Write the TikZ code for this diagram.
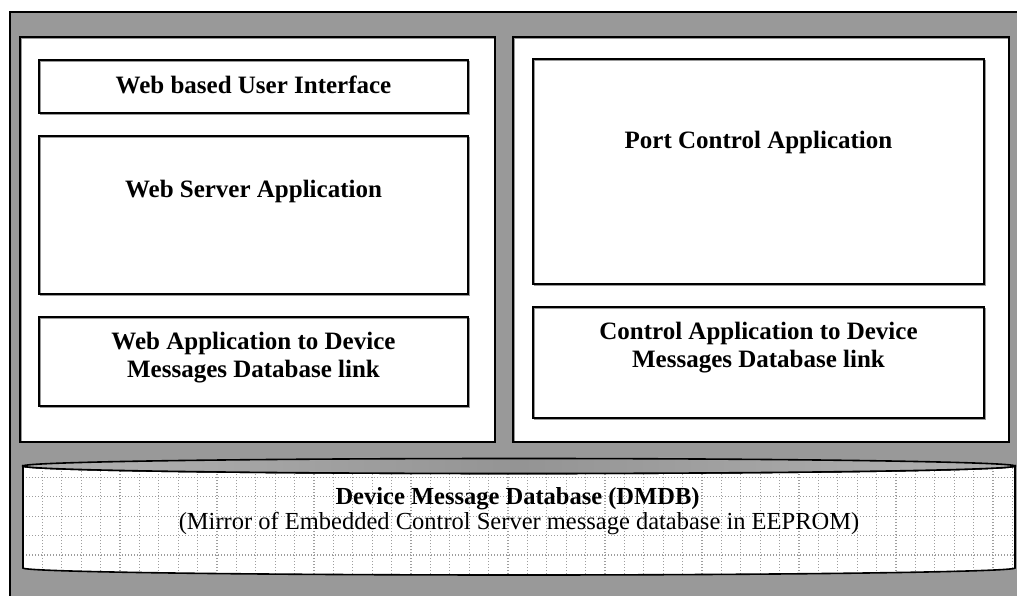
\documentclass[tikz,border=0pt]{standalone}
\usepackage{fontspec}
\setmainfont{Liberation Serif}
\begin{document}
\begin{tikzpicture}[x=1pt,y=1pt,
  frame/.style={fill=black!40, draw=black, line width=1.7pt},
  box/.style={rectangle, inner sep=0pt,
    preaction={fill=white},
    preaction={draw=black!40, line width=1.4pt, transform canvas={shift={(1.5pt,-1.5pt)}}},
    draw=black, line width=1.6pt},
  title/.style={inner sep=0pt, align=center, font=\fontsize{25}{28}\selectfont\bfseries},
  plain/.style={inner sep=0pt, align=center, font=\fontsize{24.5}{28}\selectfont},
  gridline/.style={draw=black!38, line width=1.2pt, dash pattern=on 1.2pt off 1.8pt},
  dbedge/.style={draw=black, line width=1.6pt},
  dbshadow/.style={draw=black!40, line width=1.4pt}]
\useasboundingbox (0,0) rectangle (1017,595);
\clip (0,0) rectangle (1017,595);
\fill[white] (0,0) rectangle (1017,595);

% grey enclosure
\path[frame] (10,583) rectangle (1040,-20);

% two application panels
\node[box, minimum width=475pt, minimum height=405pt] (left) at (257.5,355.5) {};
\node[box, minimum width=496pt, minimum height=405pt] (right) at (761,355.5) {};

% web side
\node[box, minimum width=429pt, minimum height=53pt]  (ui)      at (253.5,508.5) {};
\node[box, minimum width=429pt, minimum height=158pt] (websrv)  at (253.5,380) {};
\node[box, minimum width=429pt, minimum height=89pt]  (weblink) at (253.5,233.5) {};
\node[title, anchor=base] (uitext) at (253.5,501) {Web based User Interface};
\node[title, anchor=base] (websrvtext) at (253.5,397) {Web Server Application};
\node[title] (weblinktext) at (253.5,237.4) {Web Application to Device\\Messages Database link};

% control side
\node[box, minimum width=451pt, minimum height=225pt] (port)     at (758.5,423.5) {};
\node[box, minimum width=451pt, minimum height=111pt] (ctrllink) at (758.5,232.5) {};
\node[title, anchor=base] (porttext) at (758.5,446) {Port Control Application};
\node[title] (ctrllinktext) at (758.5,247.9) {Control Application to Device\\Messages Database link};

% database cylinder
\def\dbbody{(23,129) -- (23,27) arc[start angle=180, end angle=360, x radius=496, y radius=7]
  -- (1015,129) arc[start angle=0, end angle=-180, x radius=496, y radius=7.5] -- cycle}
\fill[white] \dbbody;
\begin{scope}
  \clip \dbbody;
  \foreach \gx in {0,...,51} {
    \path[gridline] ({22.9+19.4*\gx},0) -- ({22.9+19.4*\gx},140);
  }
  \foreach \gy in {0,...,5} {
    \path[gridline] (20,{117.7-19.4*\gy}) -- (1020,{117.7-19.4*\gy});
  }
\end{scope}
\begin{scope}[transform canvas={shift={(1.5pt,-1.5pt)}}]
  \path[dbshadow] (23,27) arc[start angle=180, end angle=360, x radius=496, y radius=7] -- (1015,129);
\end{scope}
\path[dbedge] \dbbody;
\shade[left color=black!30, right color=black!30, middle color=black!42]
  (519,129) ellipse[x radius=496, y radius=7.5];
\path[dbedge] (519,129) ellipse[x radius=496, y radius=7.5];

\node[title, font=\fontsize{24.5}{28}\selectfont\bfseries, anchor=base] (dbname) at (517.5,91) {Device Message Database (DMDB)};
\node[plain, anchor=base] (dbnote) at (519,65.5) {(Mirror of Embedded Control Server message database in EEPROM)};
\end{tikzpicture}
\end{document}
